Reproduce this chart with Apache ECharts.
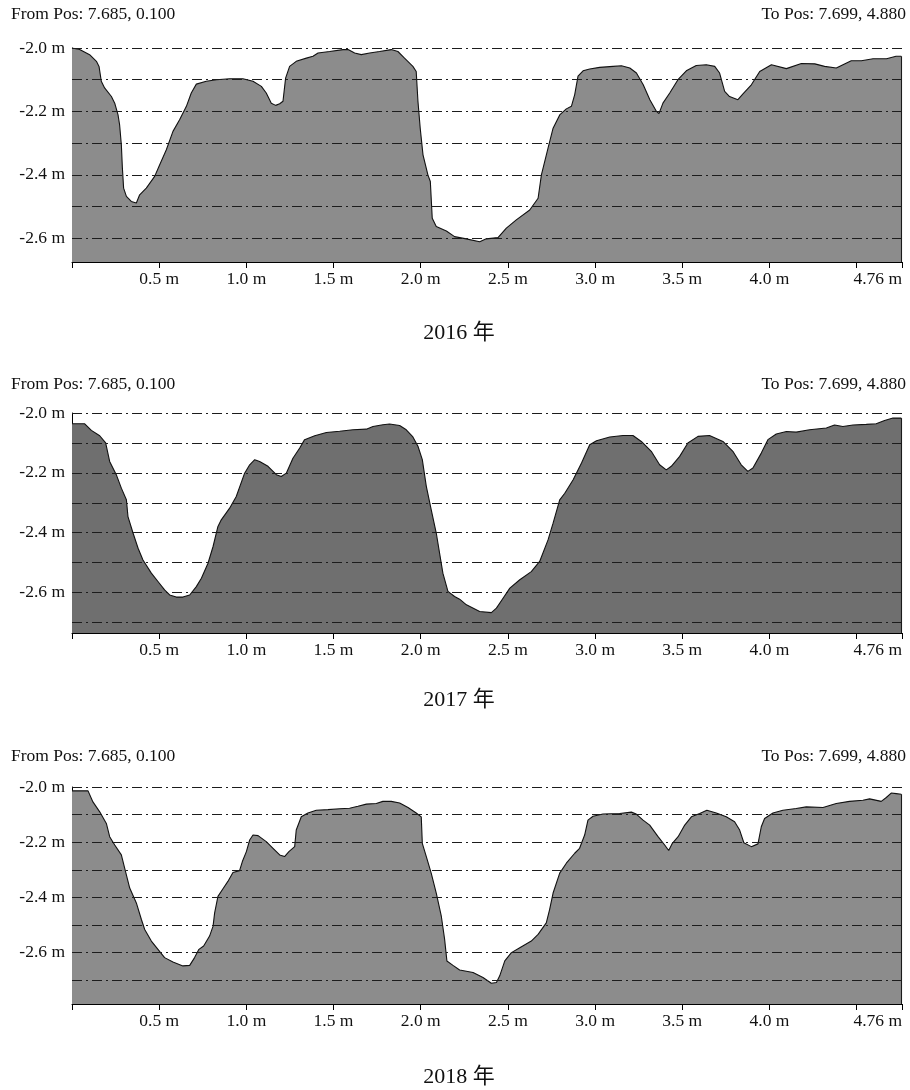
<!DOCTYPE html>
<html>
<head>
<meta charset="utf-8">
<script src="https://cdn.jsdelivr.net/npm/echarts@6/dist/echarts.min.js"></script>
<style>
html,body{margin:0;padding:0;background:#fff;}
#chart{width:910px;height:1090px;}
</style>
</head>
<body>
<div id="chart"></div>
<script>
// ---- data: [distance (m), elevation (m)] ----
const profile2016 = [
[0,-2.0],[0.044,-2.005],[0.101,-2.021],[0.14,-2.042],[0.155,-2.058],[0.168,-2.105],[0.187,-2.126],[0.226,-2.153],[0.245,-2.174],[0.264,-2.211],[0.273,-2.242],[0.283,-2.305],[0.289,-2.379],[0.296,-2.442],[0.312,-2.468],[0.340,-2.484],[0.369,-2.489],[0.388,-2.463],[0.426,-2.442],[0.474,-2.405],[0.503,-2.368],[0.541,-2.321],[0.579,-2.263],[0.617,-2.226],[0.656,-2.184],[0.684,-2.142],[0.713,-2.114],[0.770,-2.105],[0.828,-2.1],[0.904,-2.097],[0.980,-2.097],[1.038,-2.105],[1.086,-2.121],[1.114,-2.142],[1.143,-2.174],[1.168,-2.181],[1.191,-2.176],[1.210,-2.168],[1.225,-2.095],[1.248,-2.058],[1.286,-2.042],[1.344,-2.032],[1.382,-2.026],[1.411,-2.016],[1.478,-2.011],[1.554,-2.005],[1.583,-2.005],[1.621,-2.016],[1.659,-2.021],[1.707,-2.016],[1.764,-2.011],[1.831,-2.005],[1.869,-2.011],[1.907,-2.032],[1.955,-2.058],[1.974,-2.074],[1.984,-2.168],[1.997,-2.253],[2.013,-2.337],[2.041,-2.4],[2.055,-2.421],[2.066,-2.537],[2.089,-2.563],[2.147,-2.577],[2.194,-2.595],[2.261,-2.602],[2.338,-2.611],[2.376,-2.602],[2.443,-2.598],[2.491,-2.568],[2.548,-2.542],[2.625,-2.511],[2.673,-2.474],[2.692,-2.4],[2.730,-2.316],[2.759,-2.253],[2.797,-2.211],[2.835,-2.192],[2.864,-2.184],[2.883,-2.147],[2.902,-2.089],[2.931,-2.072],[2.969,-2.066],[3.026,-2.061],[3.103,-2.058],[3.151,-2.056],[3.199,-2.063],[3.237,-2.079],[3.276,-2.116],[3.314,-2.163],[3.352,-2.2],[3.366,-2.207],[3.389,-2.174],[3.428,-2.142],[3.475,-2.1],[3.523,-2.072],[3.580,-2.055],[3.638,-2.053],[3.686,-2.058],[3.714,-2.079],[3.743,-2.137],[3.771,-2.153],[3.819,-2.163],[3.848,-2.145],[3.896,-2.116],[3.944,-2.074],[4.011,-2.053],[4.097,-2.065],[4.183,-2.049],[4.260,-2.05],[4.316,-2.058],[4.383,-2.063],[4.469,-2.04],[4.527,-2.04],[4.594,-2.034],[4.671,-2.034],[4.726,-2.026],[4.756,-2.026]
];
const profile2017 = [
[0,-2.036],[0.073,-2.036],[0.111,-2.058],[0.159,-2.076],[0.193,-2.1],[0.216,-2.162],[0.254,-2.206],[0.283,-2.251],[0.312,-2.29],[0.321,-2.346],[0.350,-2.401],[0.379,-2.452],[0.407,-2.491],[0.455,-2.535],[0.493,-2.563],[0.531,-2.591],[0.560,-2.608],[0.598,-2.615],[0.636,-2.615],[0.675,-2.608],[0.713,-2.58],[0.742,-2.552],[0.780,-2.502],[0.809,-2.446],[0.837,-2.379],[0.856,-2.357],[0.904,-2.318],[0.942,-2.279],[0.990,-2.201],[1.019,-2.173],[1.048,-2.156],[1.076,-2.162],[1.124,-2.178],[1.172,-2.206],[1.200,-2.212],[1.229,-2.201],[1.267,-2.151],[1.306,-2.117],[1.334,-2.089],[1.392,-2.076],[1.459,-2.065],[1.535,-2.061],[1.611,-2.056],[1.688,-2.054],[1.726,-2.045],[1.783,-2.039],[1.821,-2.037],[1.879,-2.042],[1.917,-2.056],[1.955,-2.08],[1.984,-2.111],[2.009,-2.156],[2.032,-2.245],[2.060,-2.323],[2.089,-2.401],[2.108,-2.468],[2.127,-2.535],[2.156,-2.596],[2.194,-2.613],[2.223,-2.622],[2.262,-2.641],[2.338,-2.663],[2.405,-2.667],[2.434,-2.652],[2.472,-2.619],[2.511,-2.585],[2.568,-2.557],[2.634,-2.53],[2.682,-2.496],[2.730,-2.424],[2.759,-2.368],[2.797,-2.29],[2.826,-2.268],[2.874,-2.223],[2.922,-2.167],[2.969,-2.106],[3.008,-2.093],[3.084,-2.08],[3.160,-2.075],[3.217,-2.075],[3.265,-2.095],[3.322,-2.128],[3.370,-2.173],[3.408,-2.19],[3.437,-2.178],[3.485,-2.145],[3.532,-2.1],[3.590,-2.078],[3.656,-2.075],[3.733,-2.095],[3.790,-2.128],[3.838,-2.173],[3.876,-2.195],[3.905,-2.184],[3.953,-2.134],[3.991,-2.089],[4.039,-2.07],[4.097,-2.062],[4.153,-2.064],[4.230,-2.056],[4.326,-2.05],[4.373,-2.04],[4.421,-2.045],[4.479,-2.04],[4.555,-2.038],[4.612,-2.036],[4.660,-2.025],[4.708,-2.017],[4.756,-2.017]
];
const profile2018 = [
[0,-2.014],[0.092,-2.014],[0.120,-2.054],[0.159,-2.09],[0.197,-2.132],[0.216,-2.18],[0.245,-2.21],[0.283,-2.246],[0.302,-2.294],[0.331,-2.366],[0.369,-2.42],[0.398,-2.48],[0.417,-2.516],[0.455,-2.558],[0.493,-2.588],[0.531,-2.618],[0.579,-2.634],[0.636,-2.648],[0.675,-2.646],[0.703,-2.618],[0.728,-2.588],[0.755,-2.576],[0.789,-2.54],[0.809,-2.504],[0.818,-2.456],[0.837,-2.396],[0.862,-2.372],[0.894,-2.342],[0.923,-2.31],[0.961,-2.303],[0.977,-2.27],[1.000,-2.234],[1.019,-2.192],[1.038,-2.174],[1.067,-2.176],[1.114,-2.198],[1.153,-2.222],[1.191,-2.246],[1.219,-2.252],[1.244,-2.234],[1.277,-2.216],[1.286,-2.156],[1.315,-2.108],[1.353,-2.094],[1.401,-2.084],[1.468,-2.082],[1.535,-2.079],[1.592,-2.077],[1.640,-2.07],[1.688,-2.062],[1.745,-2.06],[1.783,-2.052],[1.831,-2.052],[1.879,-2.058],[1.927,-2.074],[1.974,-2.094],[2.003,-2.108],[2.009,-2.204],[2.032,-2.252],[2.060,-2.312],[2.089,-2.384],[2.118,-2.468],[2.137,-2.552],[2.150,-2.63],[2.185,-2.646],[2.223,-2.663],[2.300,-2.672],[2.357,-2.69],[2.405,-2.711],[2.434,-2.708],[2.453,-2.684],[2.482,-2.63],[2.520,-2.6],[2.568,-2.582],[2.634,-2.558],[2.673,-2.534],[2.720,-2.492],[2.739,-2.444],[2.759,-2.384],[2.797,-2.312],[2.835,-2.276],[2.883,-2.24],[2.911,-2.222],[2.940,-2.174],[2.959,-2.12],[2.988,-2.106],[3.045,-2.098],[3.141,-2.096],[3.208,-2.091],[3.236,-2.098],[3.275,-2.12],[3.313,-2.138],[3.361,-2.18],[3.399,-2.21],[3.422,-2.23],[3.443,-2.204],[3.476,-2.18],[3.514,-2.138],[3.552,-2.108],[3.600,-2.096],[3.641,-2.084],[3.695,-2.094],[3.752,-2.108],[3.800,-2.126],[3.829,-2.156],[3.853,-2.202],[3.896,-2.216],[3.934,-2.206],[3.953,-2.144],[3.972,-2.114],[4.020,-2.094],[4.077,-2.084],[4.153,-2.078],[4.211,-2.072],[4.307,-2.074],[4.383,-2.06],[4.459,-2.052],[4.536,-2.048],[4.574,-2.043],[4.641,-2.052],[4.670,-2.038],[4.698,-2.022],[4.727,-2.024],[4.756,-2.026]
];

const years = ['2016 年', '2017 年', '2018 年'];
const fromText = 'From Pos: 7.685, 0.100';
const toText = 'To Pos: 7.699, 4.880';
const yLabelValues = [-2.0, -2.2, -2.4, -2.6];
const gridValues1 = [-2.0, -2.1, -2.2, -2.3, -2.4, -2.5, -2.6];
const gridValues23 = [-2.0, -2.1, -2.2, -2.3, -2.4, -2.5, -2.6, -2.7];
const xMax = 4.76;
const xLastLabel = '4.76 m';

// ---- layout / style ----
const panels = [
  {data: profile2016, top: 48, bottom: 262, yMin: -2.675, grid: gridValues1, fill: '#8c8c8c', head: 16, cap: 333},
  {data: profile2017, top: 413, bottom: 633, yMin: -2.735, grid: gridValues23, fill: '#6f6f6f', head: 386, cap: 700},
  {data: profile2018, top: 787, bottom: 1004, yMin: -2.786, grid: gridValues23, fill: '#8c8c8c', head: 758, cap: 1077}
];
const FONT = '"Liberation Serif", "Times New Roman", "Noto Sans CJK SC", serif';
const LEFT = 72, RIGHT_EDGE = 902;

const grids = [], xAxes = [], yAxes = [], series = [], graphics = [];
panels.forEach((p, i) => {
  grids.push({left: LEFT, width: RIGHT_EDGE - LEFT, top: p.top, height: p.bottom - p.top, containLabel: false});
  xAxes.push({
    type: 'value', gridIndex: i, min: 0, max: xMax, interval: 0.5,
    axisLine: {show: true, onZero: false, lineStyle: {color: '#000', width: 1}},
    axisTick: {show: true, length: 6, lineStyle: {color: '#000', width: 1}},
    splitLine: {show: false},
    axisLabel: {
      color: '#111', fontFamily: FONT, fontSize: 17.5, margin: 9,
      showMinLabel: true, showMaxLabel: true, alignMaxLabel: 'right',
      formatter: function (v) {
        if (v === 0) return '';
        if (Math.abs(v - xMax) < 1e-9) return xLastLabel;
        if (Math.abs(v - 4.5) < 1e-9) return '';
        return v.toFixed(1) + ' m';
      }
    }
  });
  yAxes.push({
    type: 'value', gridIndex: i, min: p.yMin, max: -2.0,
    axisLine: {show: true, onZero: false, lineStyle: {color: '#000', width: 1}},
    axisTick: {show: false},
    splitLine: {show: false},
    axisLabel: {
      color: '#111', fontFamily: FONT, fontSize: 17.5, margin: 7,
      customValues: yLabelValues,
      formatter: function (v) { return v.toFixed(1) + ' m'; }
    }
  });
  const last = p.data[p.data.length - 1];
  const ml = p.grid.map(v => ({yAxis: v}));
  ml.push([{coord: [last[0], last[1]], lineStyle: {type: 'solid', color: '#1a1a1a'}}, {coord: [last[0], p.yMin]}]);
  series.push({
    type: 'line', xAxisIndex: i, yAxisIndex: i, data: p.data,
    symbol: 'none', smooth: false,
    lineStyle: {color: '#111', width: 1.1},
    areaStyle: {color: p.fill, opacity: 1, origin: 'start'},
    markLine: {
      silent: true, symbol: ['none', 'none'], animation: false,
      label: {show: false},
      lineStyle: {color: '#1c1c1c', width: 1.1, type: [10, 4, 2, 4]},
      emphasis: {disabled: true},
      data: ml
    }
  });
  graphics.push({type: 'text', left: 11, top: p.head - 10, style: {text: fromText, font: '17.5px ' + FONT, fill: '#111'}});
  graphics.push({type: 'text', right: 4, top: p.head - 10, style: {text: toText, font: '17.5px ' + FONT, fill: '#111'}});
  graphics.push({type: 'text', x: 459, y: p.cap, style: {text: years[i], font: '22px ' + FONT, fill: '#111', align: 'center', verticalAlign: 'middle'}});
});

const chart = echarts.init(document.getElementById('chart'), null, {renderer: 'canvas'});
chart.setOption({
  animation: false,
  backgroundColor: '#fff',
  grid: grids, xAxis: xAxes, yAxis: yAxes, series: series,
  graphic: graphics
});
</script>
</body>
</html>
